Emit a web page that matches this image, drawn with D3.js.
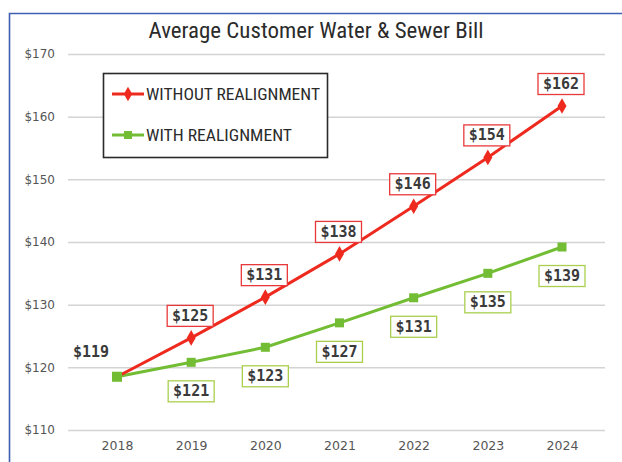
<!DOCTYPE html>
<html><head><meta charset="utf-8">
<script src="https://cdn.jsdelivr.net/npm/d3@7"></script>
<style>
body{margin:0;background:#fff;}
svg{display:block;}
</style></head>
<body>
<svg id="chart" width="622" height="462"></svg>
<script>
const years = ["2018","2019","2020","2021","2022","2023","2024"];
const withoutValues = [118.5, 124.7, 131.2, 138.1, 145.7, 153.5, 161.7];
const withValues = [118.5, 120.8, 123.2, 127.1, 131.1, 135.0, 139.2];
const withoutLabels = ["$119","$125","$131","$138","$146","$154","$162"];
const withLabels = ["$119","$121","$123","$127","$131","$135","$139"];
const yTicks = [110,120,130,140,150,160,170];
const seriesNames = ["WITHOUT REALIGNMENT","WITH REALIGNMENT"];

const RED = "#ee2a1f", GREEN = "#72bd34";
const svg = d3.select("#chart");

// frame
svg.append("path").attr("d","M9.5,470 V13.5 H640")
  .attr("fill","none").attr("stroke","#3f5fb3").attr("stroke-width",1.6);

const x = d3.scalePoint().domain(years).range([117,562]);
const y = d3.scaleLinear().domain([110,170]).range([430,54]);

const narrow = "Liberation Sans Narrow, Arial Narrow, Roboto Condensed, sans-serif";

// title
svg.append("text").attr("x",316).attr("y",38).attr("text-anchor","middle")
  .attr("font-family",narrow).attr("font-size",21.5).attr("fill","#2b2b2b")
  .attr("textLength",335).attr("lengthAdjust","spacingAndGlyphs")
  .text("Average Customer Water & Sewer Bill");

// y axis / grid
const yAxis = d3.axisLeft(y).tickValues(yTicks).tickFormat(d=>"$"+d).tickSize(-(605-68)).tickPadding(13);
const gy = svg.append("g").attr("transform","translate(68,0)").call(yAxis);
gy.select(".domain").remove();
gy.selectAll(".tick line").attr("stroke","#d4d4d4").attr("stroke-width",1.5);
gy.selectAll(".tick text").attr("font-family","DejaVu Sans, sans-serif").attr("font-size",12).attr("fill","#555");

// x axis
const xAxis = d3.axisBottom(x).tickSize(0).tickPadding(11);
const gx = svg.append("g").attr("transform","translate(0,430)").call(xAxis);
gx.select(".domain").remove();
gx.selectAll(".tick text").attr("font-family","DejaVu Sans, sans-serif").attr("font-size",12.5).attr("fill","#555");

const line = d3.line().x((d,i)=>x(years[i])).y(d=>y(d));

// green series
svg.append("path").datum(withValues).attr("d",line).attr("fill","none").attr("stroke",GREEN).attr("stroke-width",3);
svg.append("g").selectAll("rect").data(withValues).join("rect")
  .attr("x",(d,i)=>x(years[i])-4.5).attr("y",d=>y(d)-4.5).attr("width",9).attr("height",9).attr("fill",GREEN);

// red series
svg.append("path").datum(withoutValues).attr("d",line).attr("fill","none").attr("stroke",RED).attr("stroke-width",3);
svg.append("g").selectAll("path").data(withoutValues).join("path")
  .attr("d",d3.symbol().type(d3.symbolDiamond).size(70))
  .attr("transform",(d,i)=>`translate(${x(years[i])},${y(d)})`).attr("fill",RED)
  .filter((d,i)=>i===0).remove();
// green marker on top at 2018
svg.append("rect").attr("x",x(years[0])-5).attr("y",y(withValues[0])-5).attr("width",10).attr("height",10).attr("fill",GREEN);

// labels
const labFont = "DejaVu Sans Mono, Liberation Mono, monospace";
function boxLabel(cx, cy, text, stroke){
  const g = svg.append("g");
  const w = 46, h = 21;
  g.append("rect").attr("x",cx-w/2).attr("y",cy-h/2).attr("width",w).attr("height",h)
    .attr("fill","#fff").attr("stroke",stroke).attr("stroke-width",1.3);
  g.append("text").attr("x",cx).attr("y",cy+5).attr("text-anchor","middle")
    .attr("font-family",labFont).attr("font-size",15).attr("font-weight","bold").attr("fill","#3a3a3a").text(text);
}
withoutValues.forEach((d,i)=>{ if(i>0) boxLabel(x(years[i])-1, y(d)-22, withoutLabels[i], "#e8393a"); });
withValues.forEach((d,i)=>{ if(i>0) boxLabel(x(years[i]), y(d)+29, withLabels[i], "#a9cf4d"); });
svg.append("text").attr("x",91).attr("y",357).attr("text-anchor","middle")
  .attr("font-family",labFont).attr("font-size",15).attr("font-weight","bold").attr("fill","#3a3a3a").text(withoutLabels[0]);

// legend
const lg = svg.append("g");
lg.append("rect").attr("x",103.5).attr("y",73.5).attr("width",224).attr("height",84)
  .attr("fill","#fff").attr("stroke","#2a2a2a").attr("stroke-width",1.6);
const legY = [94,135];
const legC = [RED, GREEN];
const legW = [174, 146];
seriesNames.forEach((n,i)=>{
  lg.append("line").attr("x1",112).attr("x2",144).attr("y1",legY[i]).attr("y2",legY[i]).attr("stroke",legC[i]).attr("stroke-width",3);
  if(i===0) lg.append("path").attr("d",d3.symbol().type(d3.symbolDiamond).size(60)).attr("transform",`translate(128,${legY[i]})`).attr("fill",RED);
  else lg.append("rect").attr("x",124).attr("y",legY[i]-4).attr("width",8).attr("height",8).attr("fill",GREEN);
  lg.append("text").attr("x",146).attr("y",legY[i]+6).attr("font-family",narrow)
    .attr("font-size",16).attr("fill","#2b2b2b")
    .attr("textLength",legW[i]).attr("lengthAdjust","spacingAndGlyphs").text(n);
});
</script>
</body></html>
